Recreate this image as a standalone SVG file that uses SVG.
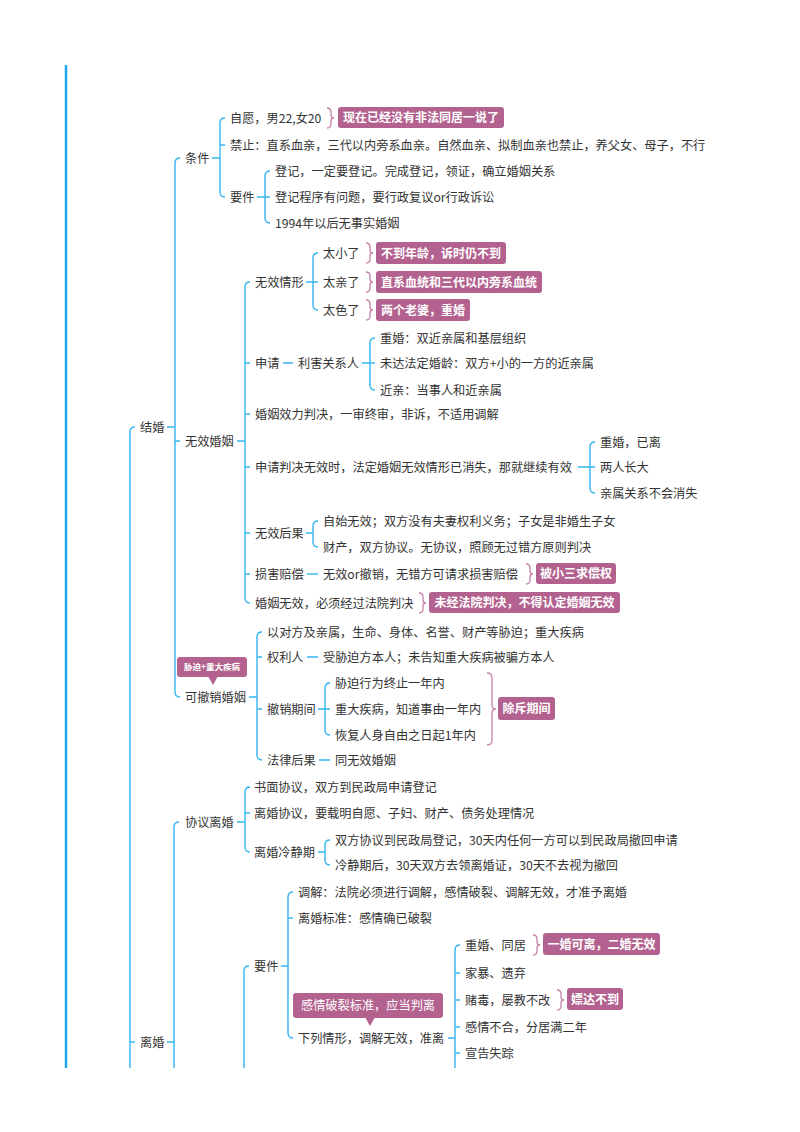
<svg xmlns="http://www.w3.org/2000/svg" width="800" height="1132" viewBox="0 0 800 1132">
<style>
.t{font-family:"Noto Sans CJK SC","Noto Sans",sans-serif;font-size:12.2px;fill:#333}
.w{font-family:"Noto Sans CJK SC","Noto Sans",sans-serif;font-size:12px;font-weight:bold;fill:#fff;text-anchor:middle}
.wn{font-family:"Noto Sans CJK SC","Noto Sans",sans-serif;font-size:12.2px;fill:#fff;text-anchor:middle}
.ws{font-family:"Noto Sans CJK SC","Noto Sans",sans-serif;font-size:8.5px;font-weight:bold;fill:#fff;text-anchor:middle}
.bx{fill:#b3628f}
.c{fill:none;stroke:#35b6f0;stroke-width:1.4}
.br{fill:none;stroke:#c783a8;stroke-width:1.3}
</style>
<rect width="800" height="1132" fill="#fff"/>
<g id="connectors">
<path d="M66,65 V1068" stroke="#1fa6ea" stroke-width="2.5" fill="none"/>
<path class="c" d="M135,427 Q130,427 130,432 V1068 M130,1042 H135"/>
<path class="c" d="M167,427 H175 M180,158 Q175,158 175,163 V692 Q175,697 180,697 M175,441 H180"/>
<path class="c" d="M212,158 H220 M225,118 Q220,118 220,123 V192 Q220,197 225,197 M220,145 H225"/>
<path class="c" d="M257,197 H265 M270,171 Q265,171 265,176 V218 Q265,223 270,223 M265,197 H270"/>
<path class="c" d="M237,441 H245 M250,282 Q245,282 245,287 V598 Q245,603 250,603 M245,363 H250 M245,414 H250 M245,467 H250 M245,533 H250 M245,574 H250"/>
<path class="c" d="M306,282 H313 M318,253 Q313,253 313,258 V305 Q313,310 318,310 M313,282 H318"/>
<path class="c" d="M283,363 H293 M362,363 H370 M375,338 Q370,338 370,343 V385 Q370,390 375,390 M370,363 H375"/>
<path class="c" d="M578,467 H590 M595,442 Q590,442 590,447 V488 Q590,493 595,493 M590,467 H595"/>
<path class="c" d="M306,533 H313 M318,521 Q313,521 313,526 V542 Q313,547 318,547"/>
<path class="c" d="M307,574 H318"/>
<path class="c" d="M249,697 H257 M262,632 Q257,632 257,637 V755 Q257,760 262,760 M257,657 H262 M257,709 H262"/>
<path class="c" d="M307,657 H318 M318,709 H325 M330,683 Q325,683 325,688 V730 Q325,735 330,735 M325,709 H330 M319,760 H330"/>
<path class="c" d="M167,1042 H174 M179,822 Q174,822 174,827 V1068"/>
<path class="c" d="M237,822 H245 M250,787 Q245,787 245,792 V847 Q245,852 250,852 M245,813 H250"/>
<path class="c" d="M318,852 H325 M330,840 Q325,840 325,845 V860 Q325,865 330,865"/>
<path class="c" d="M249,966 Q244,966 244,971 V1068"/>
<path class="c" d="M281,966 H288 M293,892 Q288,892 288,897 V1033 Q288,1038 293,1038 M288,918 H293"/>
<path class="c" d="M448,1038 H455 M460,945 Q455,945 455,950 V1068 M455,973 H460 M455,1000 H460 M455,1027 H460 M455,1053 H460"/>
<path class="br" d="M327,108 Q331,108 331,112 V115 Q331,118 334,118 Q331,118 331,121 V124 Q331,128 327,128"/>
<path class="br" d="M366,243 Q370,243 370,247 V250 Q370,253 373,253 Q370,253 370,256 V259 Q370,263 366,263"/>
<path class="br" d="M366,272 Q370,272 370,276 V279 Q370,282 373,282 Q370,282 370,285 V288 Q370,292 366,292"/>
<path class="br" d="M366,300 Q370,300 370,304 V307 Q370,310 373,310 Q370,310 370,313 V316 Q370,320 366,320"/>
<path class="br" d="M526,564 Q530,564 530,568 V571 Q530,574 533,574 Q530,574 530,577 V580 Q530,584 526,584"/>
<path class="br" d="M419,593 Q423,593 423,597 V600 Q423,603 426,603 Q423,603 423,606 V609 Q423,613 419,613"/>
<path class="br" d="M487,673 Q492,673 492,678 V705 Q492,709 496,709 Q492,709 492,713 V740 Q492,745 487,745"/>
<path class="br" d="M533,935 Q537,935 537,939 V942 Q537,945 540,945 Q537,945 537,948 V951 Q537,955 533,955"/>
<path class="br" d="M557,990 Q561,990 561,994 V997 Q561,1000 564,1000 Q561,1000 561,1003 V1006 Q561,1010 557,1010"/>
</g>
<g id="n-jiehun"><text class="t" x="140" y="431.5">结婚</text></g>
<g id="n-lihun"><text class="t" x="140" y="1046.5">离婚</text></g>
<g id="n-tiaojian"><text class="t" x="185" y="162.5">条件</text></g>
<g id="n-ziyuan"><text class="t" x="230" y="122.5">自愿，男22,女20</text></g>
<g id="n-ziyuan-note"><rect class="bx" x="338" y="107" width="166" height="21" rx="3"/><text class="w" x="421" y="122.3">现在已经没有非法同居一说了</text></g>
<g id="n-jinzhi"><text class="t" x="230" y="149.5">禁止：直系血亲，三代以内旁系血亲。自然血亲、拟制血亲也禁止，养父女、母子，不行</text></g>
<g id="n-yaojian1"><text class="t" x="230" y="201.5">要件</text></g>
<g id="n-dengji1"><text class="t" x="275" y="175.5">登记，一定要登记。完成登记，领证，确立婚姻关系</text></g>
<g id="n-dengji2"><text class="t" x="275" y="201.5">登记程序有问题，要行政复议or行政诉讼</text></g>
<g id="n-1994"><text class="t" x="275" y="227.5">1994年以后无事实婚姻</text></g>
<g id="n-wuxiao"><text class="t" x="185" y="445.5">无效婚姻</text></g>
<g id="n-qingxing"><text class="t" x="255" y="286.5">无效情形</text></g>
<g id="n-taixiao"><text class="t" x="323" y="257.5">太小了</text></g>
<g id="n-taixiao-note"><rect class="bx" x="376" y="242" width="130" height="22" rx="3"/><text class="w" x="441" y="257.5">不到年龄，诉时仍不到</text></g>
<g id="n-taiqin"><text class="t" x="323" y="286.5">太亲了</text></g>
<g id="n-taiqin-note"><rect class="bx" x="376" y="271" width="166" height="22" rx="3"/><text class="w" x="459" y="286.5">直系血统和三代以内旁系血统</text></g>
<g id="n-taise"><text class="t" x="323" y="314.5">太色了</text></g>
<g id="n-taise-note"><rect class="bx" x="376" y="299" width="94" height="22" rx="3"/><text class="w" x="423" y="314.5">两个老婆，重婚</text></g>
<g id="n-shenqing"><text class="t" x="255" y="367.5">申请</text></g>
<g id="n-lihai"><text class="t" x="298" y="367.5">利害关系人</text></g>
<g id="n-chonghun1"><text class="t" x="380" y="342.5">重婚：双近亲属和基层组织</text></g>
<g id="n-weida"><text class="t" x="380" y="367.5">未达法定婚龄：双方+小的一方的近亲属</text></g>
<g id="n-jinqin"><text class="t" x="380" y="394.5">近亲：当事人和近亲属</text></g>
<g id="n-xiaoli"><text class="t" x="255" y="418.5">婚姻效力判决，一审终审，非诉，不适用调解</text></g>
<g id="n-panjue"><text class="t" x="255" y="471.5">申请判决无效时，法定婚姻无效情形已消失，那就继续有效</text></g>
<g id="n-yili"><text class="t" x="600" y="446.5">重婚，已离</text></g>
<g id="n-zhangda"><text class="t" x="600" y="471.5">两人长大</text></g>
<g id="n-qinshu"><text class="t" x="600" y="497.5">亲属关系不会消失</text></g>
<g id="n-houguo"><text class="t" x="255" y="537.5">无效后果</text></g>
<g id="n-zishi"><text class="t" x="323" y="525.5">自始无效；双方没有夫妻权利义务；子女是非婚生子女</text></g>
<g id="n-caichan"><text class="t" x="323" y="551.5">财产，双方协议。无协议，照顾无过错方原则判决</text></g>
<g id="n-sunhai"><text class="t" x="255" y="578.5">损害赔偿</text></g>
<g id="n-sunhai2"><text class="t" x="323" y="578.5">无效or撤销，无错方可请求损害赔偿</text></g>
<g id="n-sunhai-note"><rect class="bx" x="536" y="563" width="80" height="21" rx="3"/><text class="w" x="576" y="578.3">被小三求偿权</text></g>
<g id="n-fayuan"><text class="t" x="255" y="607.5">婚姻无效，必须经过法院判决</text></g>
<g id="n-fayuan-note"><rect class="bx" x="429" y="592" width="191" height="21" rx="3"/><text class="w" x="524.5" y="607.3">未经法院判决，不得认定婚姻无效</text></g>
<g id="n-kechexiao"><text class="t" x="185" y="701.5">可撤销婚姻</text></g>
<g id="n-kechexiao-note"><rect class="bx" x="177" y="657" width="70" height="20" rx="3"/><path class="bx" d="M208,676 L218,676 L213,685 Z"/><text class="ws" x="212" y="670">胁迫+重大疾病</text></g>
<g id="n-duifang"><text class="t" x="267" y="636.5">以对方及亲属，生命、身体、名誉、财产等胁迫；重大疾病</text></g>
<g id="n-quanli"><text class="t" x="267" y="661.5">权利人</text></g>
<g id="n-quanli2"><text class="t" x="323" y="661.5">受胁迫方本人；未告知重大疾病被骗方本人</text></g>
<g id="n-chexiao"><text class="t" x="267" y="713.5">撤销期间</text></g>
<g id="n-xiepo"><text class="t" x="335" y="687.5">胁迫行为终止一年内</text></g>
<g id="n-jibing"><text class="t" x="335" y="713.5">重大疾病，知道事由一年内</text></g>
<g id="n-huifu"><text class="t" x="335" y="739.5">恢复人身自由之日起1年内</text></g>
<g id="n-chuchi"><rect class="bx" x="498" y="697" width="57" height="23" rx="3"/><text class="w" x="526.5" y="713">除斥期间</text></g>
<g id="n-falv"><text class="t" x="267" y="764.5">法律后果</text></g>
<g id="n-tong"><text class="t" x="335" y="764.5">同无效婚姻</text></g>
<g id="n-xieyi"><text class="t" x="185" y="826.5">协议离婚</text></g>
<g id="n-shumian"><text class="t" x="254" y="791.5">书面协议，双方到民政局申请登记</text></g>
<g id="n-xieyi2"><text class="t" x="254" y="817.5">离婚协议，要载明自愿、子妇、财产、债务处理情况</text></g>
<g id="n-lengjing"><text class="t" x="254" y="856.5">离婚冷静期</text></g>
<g id="n-lengjing1"><text class="t" x="335" y="844.5">双方协议到民政局登记，30天内任何一方可以到民政局撤回申请</text></g>
<g id="n-lengjing2"><text class="t" x="335" y="869.5">冷静期后，30天双方去领离婚证，30天不去视为撤回</text></g>
<g id="n-yaojian2"><text class="t" x="254" y="970.5">要件</text></g>
<g id="n-tiaojie"><text class="t" x="298" y="896.5">调解：法院必须进行调解，感情破裂、调解无效，才准予离婚</text></g>
<g id="n-biaozhun"><text class="t" x="298" y="922.5">离婚标准：感情确已破裂</text></g>
<g id="n-xialie"><text class="t" x="298" y="1042.5">下列情形，调解无效，准离</text></g>
<g id="n-xialie-note"><rect class="bx" x="293" y="993" width="150" height="25" rx="3"/><path class="bx" d="M365,1017 L375,1017 L370,1026 Z"/><text class="wn" x="368" y="1010">感情破裂标准，应当判离</text></g>
<g id="n-tongju"><text class="t" x="465" y="949.5">重婚、同居</text></g>
<g id="n-tongju-note"><rect class="bx" x="543" y="933" width="117" height="22" rx="3"/><text class="w" x="601.5" y="948.5">一婚可离，二婚无效</text></g>
<g id="n-jiabao"><text class="t" x="465" y="977.5">家暴、遗弃</text></g>
<g id="n-dudu"><text class="t" x="465" y="1004.5">赌毒，屡教不改</text></g>
<g id="n-dudu-note"><rect class="bx" x="567" y="988" width="56" height="22" rx="3"/><text class="w" x="595" y="1003.5">嫖达不到</text></g>
<g id="n-fenju"><text class="t" x="465" y="1031.5">感情不合，分居满二年</text></g>
<g id="n-shizong"><text class="t" x="465" y="1057.5">宣告失踪</text></g>
</svg>
